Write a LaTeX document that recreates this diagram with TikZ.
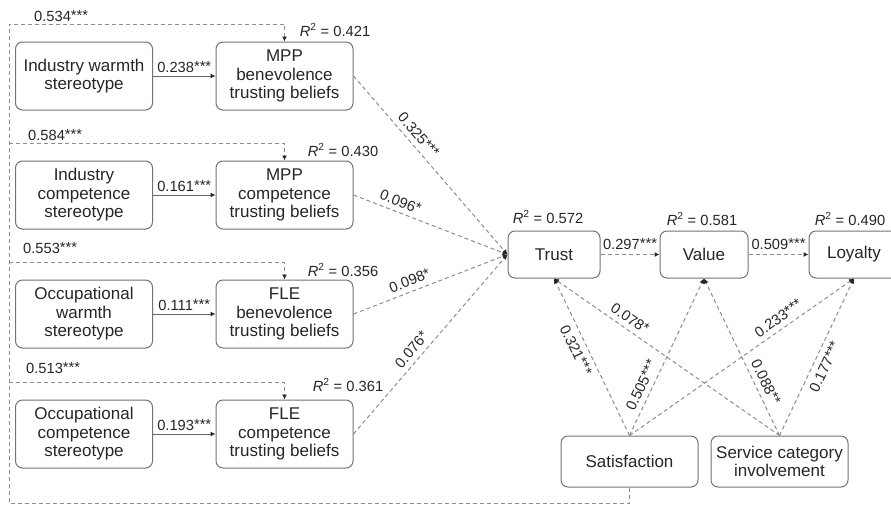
\documentclass[tikz,border=0pt]{standalone}
\usepackage{fontspec}
\setmainfont{Liberation Sans}
\usetikzlibrary{arrows.meta}
\newcommand{\rsq}[1]{\textit{R}\textsuperscript{2} = #1}
\newcommand{\sig}[1]{\raisebox{1pt}{#1}}
\begin{document}
\begin{tikzpicture}[x=1pt, y=-1pt,
  cbox/.style={draw=black!55, line width=1pt, rounded corners=7pt, align=center, text=black!85, inner sep=1pt, minimum width=137pt, minimum height=68pt, font=\fontsize{17}{18.5}\selectfont},
  sbox/.style={cbox, minimum width=90pt, minimum height=47pt},
  coef/.style={text=black!85, inner sep=1pt, font=\fontsize{14.7}{16}\selectfont},
  dline/.style={draw=black!45, line width=1pt, dash pattern=on 4pt off 3pt, -{Latex[length=5pt,width=5pt,color=black!85]}},
  sline/.style={draw=black!60, line width=1pt, -{Latex[length=5pt,width=5pt,color=black!85]}}]
\useasboundingbox (0,0) rectangle (891,506);
\node [cbox] (iws) at (84,76) {Industry warmth\\stereotype};
\node [cbox] (ics) at (84,195) {Industry\\competence\\stereotype};
\node [cbox] (ows) at (84,314) {Occupational\\warmth\\stereotype};
\node [cbox] (ocs) at (84,434) {Occupational\\competence\\stereotype};
\node [cbox] (mppb) at (284.5,76) {MPP\\benevolence\\trusting beliefs};
\node [cbox] (mppc) at (284.5,195) {MPP\\competence\\trusting beliefs};
\node [cbox] (fleb) at (284.5,314) {FLE\\benevolence\\trusting beliefs};
\node [cbox] (flec) at (284.5,434) {FLE\\competence\\trusting beliefs};
\node [sbox, minimum width=92pt] (trust) at (554,254.5) {Trust};
\node [sbox, minimum width=88pt] (value) at (704,254.5) {Value};
\node [sbox] (loyalty) at (854,254.5) {Loyalty};
\node [cbox, minimum height=51pt] (sat) at (629.5,461.5) {Satisfaction};
\node [cbox, minimum height=51pt] (sci) at (779.5,461.5) {Service category\\involvement};
\node [coef] (r2mppb) at (335,30) {\rsq{0.421}};
\node [coef] (r2mppc) at (343,150) {\rsq{0.430}};
\node [coef] (r2fleb) at (343,270) {\rsq{0.356}};
\node [coef] (r2flec) at (348,385) {\rsq{0.361}};
\node [coef] (r2trust) at (548,217) {\rsq{0.572}};
\node [coef] (r2value) at (702,219) {\rsq{0.581}};
\node [coef] (r2loyalty) at (850,219) {\rsq{0.490}};
\coordinate (fbl) at (9,503);
\coordinate (fbt) at (9,24);
\coordinate (fb2) at (9,143);
\coordinate (fb3) at (9,262);
\coordinate (fb4) at (9,382);
\draw [sline] (iws) -- node [coef, above=2pt] {0.238\sig{***}} (mppb);
\draw [sline] (ics) -- node [coef, above=2pt] {0.161\sig{***}} (mppc);
\draw [sline] (ows) -- node [coef, above=2pt] {0.111\sig{***}} (fleb);
\draw [sline] (ocs) -- node [coef, above=2pt] {0.193\sig{***}} (flec);
\draw [dline] (sat.south) |- (fbl) -- (fbt) -| (mppb.north);
\draw [dline] (fb2) -| (mppc.north);
\draw [dline] (fb3) -| (fleb.north);
\draw [dline] (fb4) -| (flec.north);
\node [coef, anchor=base west] (fbl1) at (33,21) {0.534\sig{***}};
\node [coef, anchor=base west] (fbl2) at (27,140) {0.584\sig{***}};
\node [coef, anchor=base west] (fbl3) at (22,253) {0.553\sig{***}};
\node [coef, anchor=base west] (fbl4) at (25,373) {0.513\sig{***}};
\draw [dline] (mppb.east) -- node [coef, sloped, above=4pt, pos=0.37] {0.325\sig{***}} (trust.west);
\draw [dline] (mppc.east) -- node [coef, sloped, above=4pt, pos=0.28] {0.096\sig{*}} (trust.west);
\draw [dline] (fleb.east) -- node [coef, sloped, above=4pt, pos=0.39] {0.098\sig{*}} (trust.west);
\draw [dline] (flec.east) -- node [coef, sloped, above=4pt, pos=0.43] {0.076\sig{*}} (trust.west);
\draw [dline] (trust) -- node [coef, above=3pt] {0.297\sig{***}} (value);
\draw [dline] (value) -- node [coef, above=3pt] {0.509\sig{***}} (loyalty);
\draw [dline] (sat.north) -- node [coef, sloped, below=4pt, pos=0.575] {0.321\sig{***}} (trust.south);
\draw [dline] (sat.north) -- node [coef, sloped, above=4pt, pos=0.29] {0.505\sig{***}} (value.south);
\draw [dline] (sat.north) -- node [coef, sloped, above=4pt, pos=0.69] {0.233\sig{***}} (loyalty.south);
\draw [dline] (sci.north) -- node [coef, sloped, above=4pt, pos=0.69] {0.078\sig{*}} (trust.south);
\draw [dline] (sci.north) -- node [coef, sloped, above=4pt, pos=0.31] {0.088\sig{**}} (value.south);
\draw [dline] (sci.north) -- node [coef, sloped, below=4pt, pos=0.47] {0.177\sig{***}} (loyalty.south);
\end{tikzpicture}
\end{document}
